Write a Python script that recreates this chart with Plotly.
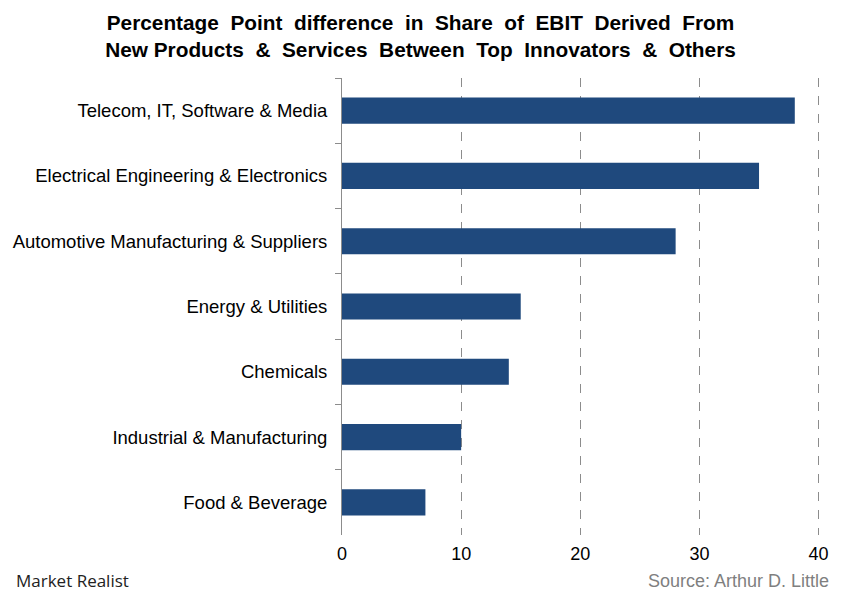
import plotly.graph_objects as go

categories = [
    "Telecom, IT, Software & Media",
    "Electrical Engineering & Electronics",
    "Automotive Manufacturing & Suppliers",
    "Energy & Utilities",
    "Chemicals",
    "Industrial & Manufacturing",
    "Food & Beverage",
]
values = [38, 35, 28, 15, 14, 10, 7]
x_ticks = [0, 10, 20, 30, 40]

fig = go.Figure(go.Bar(
    x=values, y=categories, orientation="h",
    marker=dict(color="#1F497D", line=dict(width=0)),
))

fig.update_layout(
    width=841, height=600,
    margin=dict(l=342, r=20, t=78, b=65, autoexpand=False),
    paper_bgcolor="white", plot_bgcolor="white",
    bargap=0.6,
    showlegend=False,
    font=dict(family="Liberation Sans, Arial, sans-serif", size=18, color="#000000"),
    title=dict(
        text="<b>Percentage  Point  difference  in  Share  of  EBIT  Derived  From<br>New Products  &  Services  Between  Top  Innovators  &  Others</b>",
        x=0.5, xanchor="center", xref="container", yref="container", y=0.95, yanchor="middle",
        font=dict(family="Liberation Sans Narrow, Arial Narrow, Liberation Sans, sans-serif", size=20.8, color="#000000"),
    ),
    xaxis=dict(
        range=[0, 40.2], tickvals=x_ticks, showgrid=True,
        gridcolor="#8C8C8C", griddash="dash", gridwidth=1,
        showline=False, zeroline=False, ticks="",
        tickfont=dict(size=18), ticklabelstandoff=6,
    ),
    yaxis=dict(
        autorange="reversed", showline=True, linecolor="#8C8C8C", linewidth=1,
        ticks="outside", tickson="boundaries", ticklen=6, tickcolor="#8C8C8C",
        tickfont=dict(size=18.5), showgrid=False, ticklabelstandoff=10,
    ),
)

fig.add_annotation(
    text="Market Realist", xref="paper", yref="paper",
    x=-328/479, y=-0.07, xanchor="left", yanchor="top",
    showarrow=False, font=dict(family="Open Sans, sans-serif", size=17, color="#222222"),
)
fig.add_annotation(
    text="Source: Arthur D. Little", xref="paper", yref="paper",
    x=1 + 10/479, y=-0.075, xanchor="right", yanchor="top",
    showarrow=False, font=dict(family="Liberation Sans, Arial, sans-serif", size=18, color="#7F7F7F"),
)

fig.write_html("out.html", config={"displayModeBar": False},
               post_script="document.body.style.margin='0';document.body.style.padding='0';")
